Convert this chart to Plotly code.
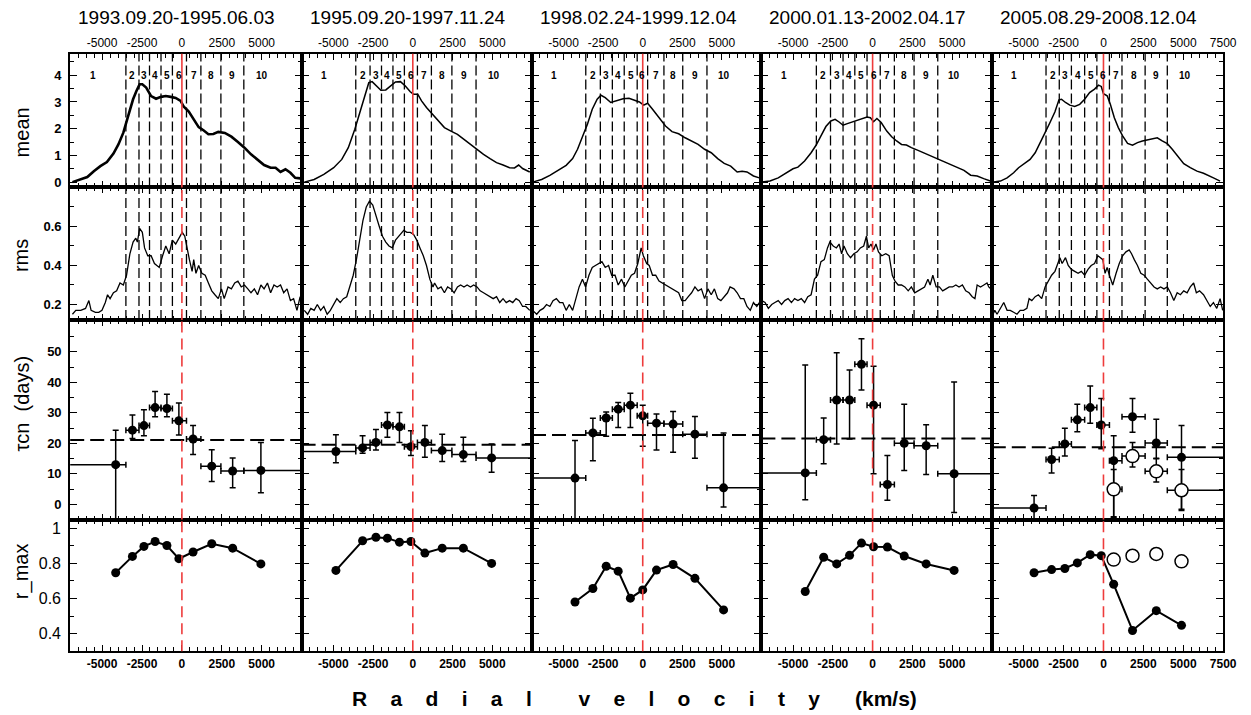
import plotly.graph_objects as go

# ---------------- data ----------------
TITLES = ["1993.09.20-1995.06.03", "1995.09.20-1997.11.24", "1998.02.24-1999.12.04",
          "2000.01.13-2002.04.17", "2005.08.29-2008.12.04"]
ROW_LABELS = ["mean", "rms", "\u03c4cn  (days)", "r_max"]
SEG_NAMES = ["1", "2", "3", "4", "5", "6", "7", "8", "9", "10"]

# mean profiles (velocity km/s, flux)
MEAN_V = [
    [-6860, -6340, -5930, -5520, -5110, -4700, -4290, -3980, -3670, -3370, -3060, -2850, -2650, -2480, -2240,
     -1930, -1620, -1310, -1010, -700, -390, -80, 120, 430, 740, 1050, 1350, 1660, 1970, 2280, 2690, 3100,
     3510, 3920, 4330, 4740, 5150, 5560, 5870, 6180, 6490, 6800, 7100, 7410],
    [-6830, -6210, -5600, -4980, -4470, -4060, -3650, -3340, -3030, -2770, -2560, -2320, -2010, -1700, -1390,
     -1090, -780, -470, -160, 40, 310, 550, 860, 1170, 1580, 1990, 2400, 2810, 3220, 3630, 4040, 4450, 4860,
     5270, 5680, 6090, 6400, 6660, 6910, 7360],
    [-6960, -6390, -5870, -5360, -4840, -4430, -4120, -3810, -3500, -3190, -2880, -2640, -2370, -2020, -1650,
     -1240, -870, -520, -210, 60, 310, 620, 1030, 1440, 1850, 2270, 2680, 3090, 3500, 3910, 4330, 4740, 5150,
     5560, 5970, 6280, 6590, 7000, 7370],
    [-6980, -6460, -5940, -5420, -5010, -4700, -4280, -3870, -3560, -3250, -2940, -2630, -2360, -2110, -1860,
     -1590, -1280, -970, -660, -350, -140, 60, 270, 540, 890, 1200, 1510, 1820, 2130, 2440, 2860, 3270, 3680,
     4100, 4510, 4930, 5340, 5750, 6170, 6580, 6990, 7410],
    [-6980, -6460, -6040, -5630, -5320, -4910, -4600, -4280, -3970, -3660, -3350, -3040, -2790, -2630, -2380,
     -2110, -1800, -1490, -1180, -870, -560, -310, -140, 0, 230, 430, 680, 930, 1200, 1510, 1820, 2130, 2440,
     2750, 3060, 3370, 3680, 4000, 4310, 4620, 5030, 5440, 5860, 6270, 6580, 6890, 7310],
]
MEAN_F = [
    [0.0, 0.1, 0.19, 0.41, 0.6, 0.75, 1.07, 1.41, 1.85, 2.47, 3.1, 3.41, 3.66, 3.66, 3.54, 3.22, 3.12, 3.19,
     3.22, 3.19, 3.15, 3.04, 2.82, 2.64, 2.35, 2.06, 1.94, 1.79, 1.8, 1.88, 1.84, 1.7, 1.5, 1.29, 1.04, 0.85,
     0.64, 0.54, 0.54, 0.38, 0.48, 0.35, 0.16, 0.14],
    [0.0, 0.1, 0.29, 0.54, 0.85, 1.29, 1.98, 2.6, 3.22, 3.72, 3.76, 3.63, 3.44, 3.45, 3.6, 3.75, 3.76, 3.6,
     3.38, 3.29, 3.29, 3.04, 2.79, 2.58, 2.29, 2.04, 1.91, 1.79, 1.6, 1.41, 1.23, 1.04, 0.88, 0.73, 0.64, 0.54,
     0.53, 0.64, 0.51, 0.38],
    [0.0, 0.1, 0.25, 0.44, 0.63, 0.88, 1.23, 1.7, 2.16, 2.73, 3.1, 3.25, 3.16, 2.98, 3.04, 3.12, 3.14, 3.06,
     3.0, 2.88, 2.95, 2.73, 2.41, 2.1, 1.89, 1.81, 1.66, 1.54, 1.41, 1.23, 1.1, 0.88, 0.7, 0.6, 0.38, 0.41,
     0.38, 0.23, 0.16],
    [0.0, 0.04, 0.16, 0.35, 0.5, 0.56, 0.79, 1.1, 1.38, 1.73, 2.08, 2.29, 2.35, 2.25, 2.13, 2.19, 2.26, 2.33,
     2.39, 2.44, 2.41, 2.26, 2.38, 2.23, 1.91, 1.7, 1.54, 1.41, 1.39, 1.29, 1.19, 1.08, 0.98, 0.88, 0.75, 0.64,
     0.54, 0.44, 0.26, 0.23, 0.13, 0.04],
    [0.0, 0.04, 0.16, 0.35, 0.54, 0.73, 0.85, 1.1, 1.45, 1.85, 2.23, 2.63, 3.08, 3.1, 2.98, 2.88, 2.83, 2.91,
     3.1, 3.35, 3.48, 3.63, 3.58, 3.31, 3.23, 2.91, 2.41, 2.04, 1.73, 1.45, 1.38, 1.48, 1.54, 1.58, 1.63, 1.66,
     1.54, 1.44, 1.23, 0.98, 0.69, 0.54, 0.41, 0.33, 0.26, 0.16, 0.04],
]

# rms profiles
RMS_V = [
    [-6860, -6650, -6340, -6040, -5830, -5690, -5420, -5210, -5010, -4800, -4660, -4500, -4290, -4090, -3880,
     -3670, -3470, -3260, -3060, -2890, -2790, -2650, -2480, -2340, -2140, -1930, -1720, -1420, -1210, -1010,
     -800, -600, -390, -180, 20, 180, 330, 470, 640, 740, 880, 1050, 1250, 1460, 1660, 1870, 2070, 2280, 2480,
     2650, 2890, 3100, 3310, 3510, 3720, 3920, 4130, 4330, 4540, 4740, 4950, 5150, 5360, 5560, 5770, 5970,
     6180, 6380, 6590, 6800, 7000, 7210, 7410],
    [-6830, -6620, -6420, -6210, -6010, -5800, -5600, -5390, -5190, -4980, -4780, -4570, -4370, -4160, -3960,
     -3750, -3550, -3340, -3140, -2930, -2730, -2520, -2320, -2110, -1910, -1700, -1500, -1290, -1090, -780,
     -570, -370, -160, 40, 250, 450, 660, 860, 1070, 1270, 1370, 1580, 1780, 1990, 2190, 2400, 2600, 2810,
     3010, 3220, 3420, 3630, 3830, 4040, 4240, 4450, 4650, 4860, 5060, 5270, 5470, 5680, 5880, 6090, 6290,
     6500, 6700, 6910, 7110, 7360],
    [-6960, -6700, -6490, -6280, -6080, -5870, -5670, -5460, -5250, -5050, -4840, -4640, -4430, -4220, -4020,
     -3810, -3610, -3400, -3190, -2990, -2780, -2580, -2370, -2160, -1960, -1750, -1550, -1340, -1130, -930,
     -720, -520, -310, -100, 40, 250, 410, 620, 820, 1030, 1240, 1440, 1650, 1850, 2060, 2270, 2470, 2680,
     2880, 3090, 3300, 3500, 3710, 3910, 4120, 4330, 4530, 4740, 4940, 5150, 5360, 5520, 5770, 5970, 6180,
     6390, 6590, 6800, 7000, 7210, 7370],
    [-6980, -6770, -6560, -6350, -6150, -5940, -5730, -5530, -5320, -5110, -4910, -4700, -4490, -4280, -4080,
     -3870, -3660, -3460, -3250, -3040, -2840, -2690, -2480, -2280, -2110, -1950, -1800, -1590, -1390, -1180,
     -970, -770, -560, -390, -250, -100, 60, 210, 370, 580, 830, 1040, 1240, 1410, 1610, 1820, 2030, 2240,
     2440, 2650, 2860, 3060, 3270, 3480, 3620, 3790, 4000, 4200, 4410, 4620, 4820, 5030, 5240, 5440, 5650,
     5860, 6070, 6270, 6440, 6580, 6790, 7000, 7200, 7310, 7450],
    [-6980, -6810, -6670, -6460, -6250, -6040, -5840, -5630, -5420, -5220, -5010, -4800, -4660, -4490, -4280,
     -4080, -3870, -3660, -3460, -3250, -3040, -2880, -2730, -2590, -2380, -2210, -2010, -1800, -1590, -1390,
     -1180, -970, -770, -560, -350, -190, -40, 100, 230, 370, 580, 790, 990, 1200, 1410, 1610, 1760, 1930,
     2130, 2340, 2550, 2750, 2960, 3170, 3370, 3580, 3790, 4000, 4200, 4410, 4620, 4820, 5030, 5240, 5440,
     5650, 5820, 6020, 6270, 6480, 6690, 6890, 7100, 7310, 7470],
]
RMS_F = [
    [0.15, 0.17, 0.17, 0.18, 0.22, 0.17, 0.16, 0.16, 0.17, 0.21, 0.25, 0.23, 0.26, 0.27, 0.31, 0.30, 0.35,
     0.46, 0.52, 0.54, 0.52, 0.59, 0.57, 0.49, 0.45, 0.45, 0.41, 0.39, 0.45, 0.50, 0.46, 0.53, 0.51, 0.54,
     0.57, 0.55, 0.48, 0.43, 0.37, 0.43, 0.36, 0.40, 0.36, 0.35, 0.31, 0.27, 0.25, 0.23, 0.28, 0.23, 0.29,
     0.28, 0.31, 0.32, 0.29, 0.30, 0.28, 0.26, 0.28, 0.25, 0.30, 0.28, 0.31, 0.26, 0.30, 0.29, 0.30, 0.26,
     0.28, 0.22, 0.23, 0.17, 0.24],
    [0.17, 0.15, 0.18, 0.17, 0.20, 0.17, 0.19, 0.15, 0.17, 0.20, 0.23, 0.21, 0.23, 0.24, 0.29, 0.35, 0.43,
     0.53, 0.63, 0.70, 0.73, 0.71, 0.65, 0.60, 0.55, 0.52, 0.50, 0.49, 0.53, 0.56, 0.58, 0.57, 0.57, 0.56,
     0.53, 0.49, 0.45, 0.40, 0.33, 0.29, 0.31, 0.28, 0.29, 0.26, 0.29, 0.28, 0.26, 0.29, 0.30, 0.29, 0.30,
     0.29, 0.30, 0.29, 0.27, 0.26, 0.25, 0.24, 0.23, 0.24, 0.21, 0.23, 0.21, 0.22, 0.21, 0.23, 0.22, 0.19,
     0.19, 0.17],
    [0.17, 0.15, 0.17, 0.18, 0.20, 0.19, 0.22, 0.23, 0.21, 0.21, 0.17, 0.20, 0.17, 0.23, 0.29, 0.33, 0.29,
     0.35, 0.39, 0.40, 0.41, 0.42, 0.39, 0.40, 0.35, 0.35, 0.30, 0.33, 0.29, 0.32, 0.35, 0.36, 0.41, 0.49,
     0.45, 0.41, 0.40, 0.35, 0.35, 0.32, 0.31, 0.30, 0.29, 0.28, 0.27, 0.26, 0.22, 0.22, 0.24, 0.26, 0.29,
     0.27, 0.28, 0.23, 0.28, 0.25, 0.28, 0.23, 0.22, 0.24, 0.26, 0.29, 0.28, 0.26, 0.23, 0.23, 0.19, 0.17,
     0.21, 0.19, 0.21],
    [0.22, 0.21, 0.18, 0.20, 0.21, 0.22, 0.20, 0.22, 0.23, 0.21, 0.23, 0.22, 0.23, 0.21, 0.24, 0.25, 0.33,
     0.35, 0.42, 0.43, 0.49, 0.52, 0.50, 0.49, 0.51, 0.46, 0.50, 0.46, 0.44, 0.46, 0.47, 0.49, 0.50, 0.55,
     0.49, 0.51, 0.48, 0.51, 0.47, 0.45, 0.46, 0.45, 0.35, 0.32, 0.30, 0.30, 0.29, 0.27, 0.29, 0.26, 0.27,
     0.28, 0.29, 0.33, 0.30, 0.35, 0.29, 0.29, 0.27, 0.28, 0.29, 0.29, 0.30, 0.29, 0.30, 0.27, 0.26, 0.24,
     0.23, 0.30, 0.29, 0.30, 0.31, 0.29, 0.28],
    [0.14, 0.17, 0.15, 0.18, 0.21, 0.17, 0.17, 0.16, 0.15, 0.17, 0.17, 0.18, 0.23, 0.22, 0.24, 0.25, 0.23,
     0.29, 0.32, 0.35, 0.37, 0.41, 0.44, 0.41, 0.44, 0.40, 0.38, 0.37, 0.36, 0.37, 0.35, 0.38, 0.40, 0.41,
     0.45, 0.44, 0.43, 0.36, 0.39, 0.35, 0.30, 0.36, 0.41, 0.45, 0.47, 0.48, 0.46, 0.43, 0.40, 0.36, 0.35,
     0.33, 0.31, 0.29, 0.28, 0.29, 0.28, 0.29, 0.26, 0.22, 0.26, 0.25, 0.27, 0.26, 0.29, 0.31, 0.26, 0.27,
     0.25, 0.22, 0.19, 0.21, 0.18, 0.23, 0.17],
]

# velocity-bin boundaries (km/s) between the 10 segments
SEG_BOUNDS = [
    [-3510, -2690, -2030, -1310, -595, 287, 1190, 2443, 3880],
    [-3590, -2690, -1970, -1250, -530, 290, 1170, 2460, 3980],
    [-3600, -2680, -1920, -1170, -350, 310, 1340, 2530, 4060],
    [-3540, -2650, -1860, -1120, -350, 480, 1370, 2610, 4100],
    [-3600, -2770, -2010, -1180, -414, 373, 1160, 2610, 4000],
]

# tau_cn lags (days) per segment
SEG_V = [
    [-4150, -3100, -2380, -1680, -940, -190, 700, 1870, 3180, 4950],
    [-4840, -3160, -2320, -1600, -840, -120, 760, 1850, 3180, 4960],
    [-4280, -3150, -2310, -1550, -780, 0, 870, 1920, 3300, 5110],
    [-4240, -3080, -2260, -1450, -700, 60, 930, 1990, 3370, 5130],
    [-4350, -3250, -2420, -1640, -830, -140, 640, 1820, 3310, 4890],
]
TAU = [
    [13.0, 24.3, 25.8, 31.7, 31.4, 27.4, 21.4, 12.5, 10.9, 11.1],
    [17.3, 18.5, 20.3, 26.0, 25.4, 18.9, 20.3, 17.6, 16.3, 15.2],
    [8.6, 23.4, 28.3, 31.2, 32.5, 29.0, 26.6, 26.3, 23.0, 5.4],
    [10.3, 21.2, 34.2, 34.2, 45.9, 32.5, 6.5, 20.0, 19.2, 10.0],
    [-1.2, 14.7, 19.8, 27.7, 31.7, 26.0, 14.3, 28.7, 20.1, 15.4],
]
TAU_HI = [
    [24.3, 29.3, 31.0, 37.0, 36.1, 33.2, 25.8, 17.9, 15.2, 20.3],
    [22.8, 22.5, 24.5, 30.1, 30.1, 24.1, 25.8, 23.0, 22.0, 19.8],
    [20.9, 28.2, 30.3, 33.4, 36.4, 32.5, 29.6, 30.4, 28.8, 23.4],
    [45.7, 28.3, 49.7, 44.0, 54.3, 45.3, 16.0, 32.8, 26.1, 40.1],
    [2.9, 18.4, 24.9, 32.8, 38.8, 34.7, 22.5, 34.7, 27.9, 25.8],
]
TAU_LO = [
    [-10.0, 21.6, 22.5, 28.7, 28.7, 22.7, 16.3, 7.5, 5.4, 3.8],
    [13.6, 16.7, 17.8, 22.0, 20.3, 16.0, 15.4, 14.0, 14.0, 10.5],
    [-10.0, 14.3, 22.3, 25.2, 25.2, 19.0, 17.8, 17.1, 15.1, -0.9],
    [1.5, 13.3, 19.8, 21.4, 37.5, 10.0, 1.3, 11.1, 9.8, -2.7],
    [-10.0, 10.3, 15.8, 23.8, 26.6, 18.2, -4.3, 23.6, 15.1, -1.6],
]
TAU_AVG = [21.1, 19.5, 22.7, 21.6, 18.7]

RMAX = [
    [0.747, 0.84, 0.897, 0.925, 0.902, 0.827, 0.865, 0.912, 0.887, 0.797],
    [0.76, 0.929, 0.949, 0.944, 0.921, 0.925, 0.859, 0.887, 0.887, 0.8],
    [0.58, 0.657, 0.784, 0.756, 0.602, 0.649, 0.762, 0.794, 0.715, 0.535],
    [0.64, 0.835, 0.797, 0.846, 0.916, 0.895, 0.893, 0.842, 0.797, 0.76],
    [0.747, 0.765, 0.771, 0.803, 0.85, 0.844, 0.681, 0.418, 0.531, 0.447],
]

# second (open-circle) solution for the last period, red wing segments 7-10
OPEN_V = [640, 1820, 3310, 4890]
OPEN_TAU = [4.9, 15.8, 10.8, 4.6]
OPEN_TAU_HI = [11.4, 20.3, 14.9, 11.4]
OPEN_TAU_LO = [-4.1, 12.2, 7.3, -2.0]
OPEN_RMAX = [0.822, 0.844, 0.854, 0.812]

X_TICKS = [-5000, -2500, 0, 2500, 5000]
X_TICKS_LAST = [-5000, -2500, 0, 2500, 5000, 7500]

# ---------------- layout helpers ----------------
W, H = 1251, 715
FONT = "Liberation Sans, Arial, Helvetica, sans-serif"
COLS = [(71, 305), (305, 538), (538, 770), (770, 1003), (1003, 1237)]
ROWS = [(54, 188), (188, 321), (321, 521), (521, 653)]
XR = [-7000, 7500]
EDGE_LO, EDGE_HI = -8000, 8500
RED = "rgb(238,60,60)"

Y_SPEC = [
    dict(range=[-0.2, 4.8], tickvals=[0, 1, 2, 3, 4], minor=0.5, size=13, bold=True),
    dict(range=[0.12, 0.8], tickvals=[0.2, 0.4, 0.6], minor=0.1, size=13, bold=True),
    dict(range=[-5, 60.4], tickvals=[0, 10, 20, 30, 40, 50], minor=5, size=13, bold=True),
    dict(range=[0.3, 1.05], tickvals=[0.4, 0.6, 0.8, 1.0], minor=0.1, size=16, bold=False),
]

fig = go.Figure()
layout = dict(width=W, height=H, autosize=False, margin=dict(l=0, r=0, t=0, b=0),
              paper_bgcolor="white", plot_bgcolor="white", showlegend=False,
              font=dict(family=FONT, color="black"))
shapes = []
annotations = []


def ax_id(r, c):
    return r * 5 + c + 1


for r in range(4):
    for c in range(5):
        k = ax_id(r, c)
        sx = "" if k == 1 else str(k)
        xl, xr = COLS[c]
        yt, yb = ROWS[r]
        xt = X_TICKS_LAST if c == 4 else X_TICKS
        layout["xaxis" + sx] = dict(
            domain=[xl / W, xr / W], anchor="y" + sx, range=XR,
            side="top" if r == 0 else "bottom",
            showticklabels=r in (0, 3),
            tickmode="array", tickvals=xt, ticktext=[str(v) for v in xt],
            ticks="inside", ticklen=6, tickwidth=1.2, tickcolor="black",
            minor=dict(ticks="inside", ticklen=4, tickwidth=1, tickcolor="black",
                       tickmode="linear", tick0=0, dtick=500),
            showline=True, linewidth=2, linecolor="black", mirror="allticks",
            showgrid=False, zeroline=False, fixedrange=True,
            tickfont=dict(family=FONT, size=12, color="black",
                          weight="bold" if r == 3 else "normal"),
        )
        spec = Y_SPEC[r]
        layout["yaxis" + sx] = dict(
            domain=[1 - yb / H, 1 - yt / H], anchor="x" + sx, range=spec["range"],
            tickmode="array", tickvals=spec["tickvals"],
            showticklabels=(c == 0),
            ticks="inside", ticklen=7, tickwidth=1.2, tickcolor="black",
            minor=dict(ticks="inside", ticklen=4, tickwidth=1, tickcolor="black",
                       tickmode="linear", tick0=0, dtick=spec["minor"]),
            showline=True, linewidth=2, linecolor="black", mirror="allticks",
            showgrid=False, zeroline=False, fixedrange=True, ticklabelstandoff=4,
            tickfont=dict(family=FONT, size=spec["size"], color="black",
                          weight="bold" if spec["bold"] else "normal"),
        )

for c in range(5):
    # ---- mean ----
    k = ax_id(0, c)
    sx = "" if k == 1 else str(k)
    fig.add_trace(go.Scatter(x=MEAN_V[c], y=MEAN_F[c], mode="lines",
                             line=dict(color="black", width=2.6 if c == 0 else 1.5),
                             xaxis="x" + sx, yaxis="y" + sx, hoverinfo="skip"))
    # ---- rms ----
    k = ax_id(1, c)
    sx = str(k)
    fig.add_trace(go.Scatter(x=RMS_V[c], y=RMS_F[c], mode="lines",
                             line=dict(color="black", width=1.3),
                             xaxis="x" + sx, yaxis="y" + sx, hoverinfo="skip"))
    # ---- tau ----
    k = ax_id(2, c)
    sx = str(k)
    bnd = [EDGE_LO] + SEG_BOUNDS[c] + [EDGE_HI]
    ex_plus = [bnd[i + 1] - v for i, v in enumerate(SEG_V[c])]
    ex_minus = [v - bnd[i] for i, v in enumerate(SEG_V[c])]
    ey_plus = [h - t for h, t in zip(TAU_HI[c], TAU[c])]
    ey_minus = [t - l for l, t in zip(TAU_LO[c], TAU[c])]
    fig.add_trace(go.Scatter(
        x=SEG_V[c], y=TAU[c], mode="markers",
        marker=dict(color="black", size=9),
        error_y=dict(type="data", symmetric=False, array=ey_plus, arrayminus=ey_minus,
                     color="black", thickness=1.5, width=3),
        error_x=dict(type="data", symmetric=False, array=ex_plus, arrayminus=ex_minus,
                     color="black", thickness=1.5, width=3),
        xaxis="x" + sx, yaxis="y" + sx, hoverinfo="skip"))
    shapes.append(dict(type="line", xref="x" + sx + " domain", yref="y" + sx,
                       x0=0, x1=1, y0=TAU_AVG[c], y1=TAU_AVG[c],
                       line=dict(color="black", width=2, dash="14px,6px"), layer="below"))
    if c == 4:
        idx = [SEG_V[c].index(v) for v in OPEN_V]
        fig.add_trace(go.Scatter(
            x=OPEN_V, y=OPEN_TAU, mode="markers",
            marker=dict(color="white", size=13, line=dict(color="black", width=1.5)),
            error_y=dict(type="data", symmetric=False,
                         array=[h - t for h, t in zip(OPEN_TAU_HI, OPEN_TAU)],
                         arrayminus=[t - l for l, t in zip(OPEN_TAU_LO, OPEN_TAU)],
                         color="black", thickness=1.5, width=3),
            error_x=dict(type="data", symmetric=False,
                         array=[ex_plus[i] for i in idx], arrayminus=[ex_minus[i] for i in idx],
                         color="black", thickness=1.5, width=3),
            xaxis="x" + sx, yaxis="y" + sx, hoverinfo="skip"))
    # ---- r_max ----
    k = ax_id(3, c)
    sx = str(k)
    fig.add_trace(go.Scatter(x=SEG_V[c], y=RMAX[c], mode="lines+markers",
                             line=dict(color="black", width=2),
                             marker=dict(color="black", size=9),
                             xaxis="x" + sx, yaxis="y" + sx, hoverinfo="skip"))
    if c == 4:
        fig.add_trace(go.Scatter(x=OPEN_V, y=OPEN_RMAX, mode="markers",
                                 marker=dict(color="white", size=13,
                                             line=dict(color="black", width=1.5)),
                                 xaxis="x" + sx, yaxis="y" + sx, hoverinfo="skip"))

    # ---- segment boundaries in mean and rms panels ----
    for r in (0, 1):
        k = ax_id(r, c)
        sx = "" if k == 1 else str(k)
        for b in SEG_BOUNDS[c]:
            shapes.append(dict(type="line", xref="x" + sx, yref="y" + sx + " domain",
                               x0=b, x1=b, y0=0, y1=1,
                               line=dict(color="black", width=1.3, dash="10px,4px")))
    # ---- red zero-velocity line ----
    for r in range(4):
        k = ax_id(r, c)
        sx = "" if k == 1 else str(k)
        shapes.append(dict(type="line", xref="x" + sx, yref="y" + sx + " domain",
                           x0=0, x1=0, y0=0, y1=1,
                           line=dict(color=RED, width=1.6,
                                     dash="solid" if r == 0 else "11px,6px")))
    # ---- segment numbers ----
    k = ax_id(0, c)
    sx = "" if k == 1 else str(k)
    lb = [-7600] + SEG_BOUNDS[c] + [6200]
    for i, name in enumerate(SEG_NAMES):
        annotations.append(dict(x=(lb[i] + lb[i + 1]) / 2, y=0.895, xref="x" + sx,
                                yref="y" + sx + " domain", text=name, showarrow=False,
                                font=dict(family=FONT, size=10, color="black", weight="bold")))
    # ---- column title ----
    annotations.append(dict(x=(COLS[c][0] + 6) / W, y=1 - 18 / H, xref="paper", yref="paper",
                            xanchor="left", yanchor="middle", text=TITLES[c], showarrow=False,
                            font=dict(family=FONT, size=19, color="black")))

# row labels
for lab, yc in zip(ROW_LABELS, [133, 256, 405, 573]):
    annotations.append(dict(x=22 / W, y=1 - yc / H, xref="paper", yref="paper",
                            xanchor="center", yanchor="middle", textangle=-90,
                            text=lab, showarrow=False,
                            font=dict(family=FONT, size=20, color="black")))

# x-axis title
nb = "\u00a0"
xtitle = (nb * 8).join([(nb * 4).join("Radial"), (nb * 4).join("velocity")]) + nb * 6 + "(km/s)"
annotations.append(dict(x=354 / W, y=1 - 700 / H, xref="paper", yref="paper",
                        xanchor="left", yanchor="middle", text=xtitle, showarrow=False,
                        font=dict(family=FONT, size=21, color="black", weight="bold")))

layout["shapes"] = shapes
layout["annotations"] = annotations
fig.update_layout(**layout)
fig.write_html("out.html")
